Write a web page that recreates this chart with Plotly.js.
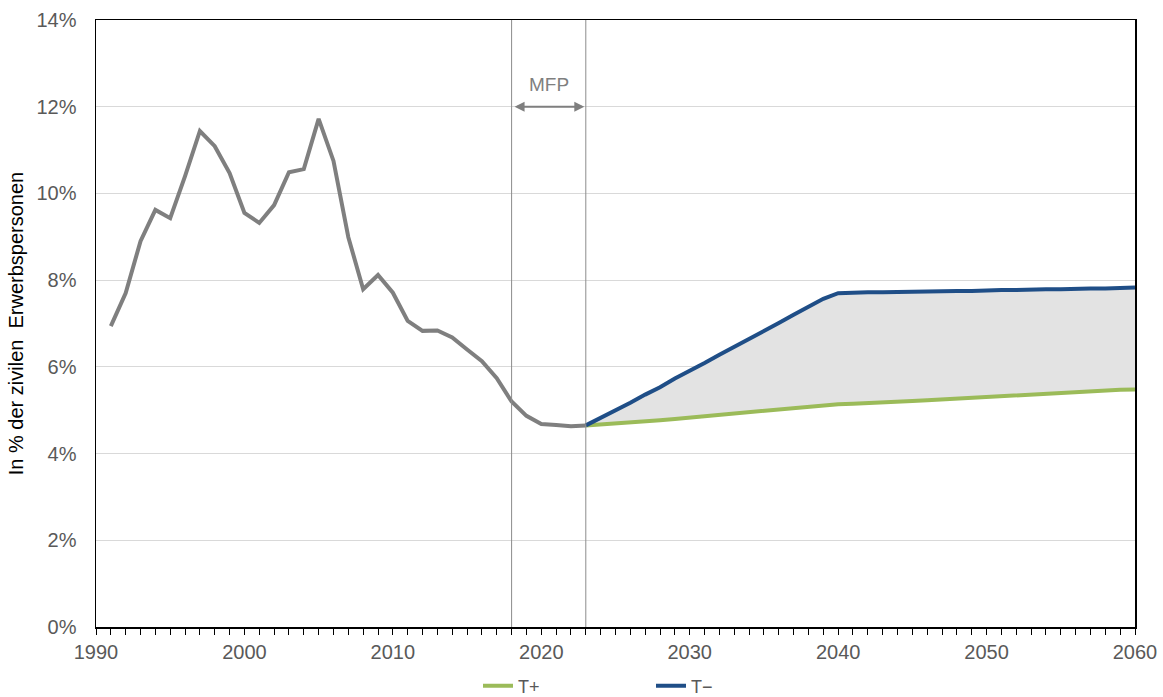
<!DOCTYPE html>
<html>
<head>
<meta charset="utf-8">
<script src="https://cdn.plot.ly/plotly-3.0.1.min.js"></script>
<style>html,body{margin:0;padding:0;background:#fff}#chart{width:1163px;height:697px}</style>
</head>
<body>
<div id="chart"></div>
<script>
const histYears = [1991,1992,1993,1994,1995,1996,1997,1998,1999,2000,2001,2002,2003,2004,2005,2006,2007,2008,2009,2010,2011,2012,2013,2014,2015,2016,2017,2018,2019,2020,2021,2022,2023];
const histValues = [6.94,7.70,8.90,9.62,9.43,10.40,11.44,11.09,10.47,9.55,9.32,9.73,10.49,10.56,11.72,10.75,8.99,7.79,8.12,7.71,7.06,6.83,6.84,6.68,6.40,6.13,5.74,5.20,4.87,4.68,4.66,4.63,4.65];

const projYears = [2023,2024,2025,2026,2027,2028,2029,2030,2031,2032,2033,2034,2035,2036,2037,2038,2039,2040,2041,2042,2043,2044,2045,2046,2047,2048,2049,2050,2051,2052,2053,2054,2055,2056,2057,2058,2059,2060];
const tPlus = [4.65,4.67,4.69,4.72,4.74,4.77,4.80,4.83,4.86,4.89,4.92,4.96,4.99,5.03,5.06,5.09,5.12,5.14,5.15,5.16,5.18,5.19,5.21,5.23,5.25,5.27,5.29,5.30,5.32,5.34,5.36,5.38,5.40,5.41,5.43,5.45,5.47,5.48];
const tMinus = [4.65,4.82,5.00,5.17,5.36,5.53,5.73,5.90,6.09,6.28,6.46,6.63,6.83,7.01,7.20,7.38,7.57,7.70,7.72,7.72,7.72,7.73,7.73,7.73,7.75,7.75,7.75,7.77,7.77,7.77,7.79,7.79,7.79,7.81,7.81,7.81,7.83,7.83];

const yTickVals = [0,2,4,6,8,10,12,14];
const yTickText = ["0%","2%","4%","6%","8%","10%","12%","14%"];
const xTickVals = [1990,2000,2010,2020,2030,2040,2050,2060];

const mfpStart = 2018, mfpEnd = 2023, mfpLabel = "MFP", mfpArrowY = 12, mfpLabelY = 12.52;

const font = "Arial, 'Liberation Sans', sans-serif";
const tickColor = "#595959";

const traces = [
  {x: projYears, y: tPlus, mode: 'lines', line: {width: 0, color: 'rgba(0,0,0,0)'}, showlegend: false, hoverinfo: 'skip'},
  {x: projYears, y: tMinus, mode: 'lines', line: {width: 0, color: 'rgba(0,0,0,0)'}, fill: 'tonexty', fillcolor: '#e3e3e3', showlegend: false, hoverinfo: 'skip'},
  {x: histYears, y: histValues, mode: 'lines', line: {color: '#7f7f7f', width: 4}, showlegend: false},
  {x: projYears, y: tPlus, mode: 'lines', name: 'T+', line: {color: '#9bbb59', width: 4}},
  {x: projYears, y: tMinus, mode: 'lines', name: 'T−', line: {color: '#1f4e87', width: 4}}
];

const layout = {
  width: 1163, height: 697,
  margin: {l: 96, r: 28, t: 20, b: 70, autoexpand: false},
  paper_bgcolor: '#fff', plot_bgcolor: '#fff',
  font: {family: font, size: 19, color: tickColor},
  showlegend: true,
  legend: {orientation: 'h', x: (478 - 96) / 1039, xanchor: 'left', y: -(686 - 627) / 607, yanchor: 'middle',
           font: {family: font, size: 18, color: tickColor}, entrywidth: 128, entrywidthmode: 'pixels', itemwidth: 30, traceorder: 'normal', bgcolor: 'rgba(0,0,0,0)'},
  xaxis: {
    range: [1990, 2060], tickvals: xTickVals, ticktext: xTickVals.map(String),
    ticks: 'outside', ticklen: 6, tickcolor: '#000', tickwidth: 1,
    minor: {dtick: 1, tick0: 1990, ticks: 'outside', ticklen: 6, tickcolor: '#000', showgrid: false},
    showline: true, linecolor: '#000', linewidth: 1.5, mirror: true,
    showgrid: false, zeroline: false, automargin: false,
    tickfont: {family: font, size: 20, color: tickColor}
  },
  yaxis: {
    range: [0, 14], tickvals: yTickVals, ticktext: yTickText,
    ticks: '', ticklabelstandoff: 14, showline: true, linecolor: '#000', linewidth: 1.5, mirror: true,
    showgrid: true, gridcolor: '#d9d9d9', gridwidth: 1, zeroline: false, automargin: false,
    tickfont: {family: font, size: 20, color: tickColor},
    title: {text: 'In % der zivilen\u00a0 Erwerbspersonen', font: {family: font, size: 20, color: '#000'}, standoff: 7}
  },
  shapes: [
    {type: 'line', xref: 'x', yref: 'y', x0: mfpStart, x1: mfpStart, y0: 0, y1: 14, line: {color: '#8c8c8c', width: 1}},
    {type: 'line', xref: 'x', yref: 'y', x0: mfpEnd, x1: mfpEnd, y0: 0, y1: 14, line: {color: '#8c8c8c', width: 1}}
  ],
  annotations: [
    {x: mfpEnd - 0.1, y: mfpArrowY, ax: mfpStart + 0.1, ay: mfpArrowY, xref: 'x', yref: 'y', axref: 'x', ayref: 'y', text: '', showarrow: true, arrowhead: 2, startarrowhead: 2, arrowside: 'end+start', arrowsize: 1, arrowwidth: 2, arrowcolor: '#7f7f7f'},
    {x: (mfpStart + mfpEnd) / 2, y: mfpLabelY, xref: 'x', yref: 'y', text: mfpLabel, showarrow: false, font: {family: font, size: 19, color: '#7f7f7f'}, yanchor: 'middle'}
  ]
};

Plotly.newPlot('chart', traces, layout, {displayModeBar: false, staticPlot: true});
</script>
</body>
</html>
